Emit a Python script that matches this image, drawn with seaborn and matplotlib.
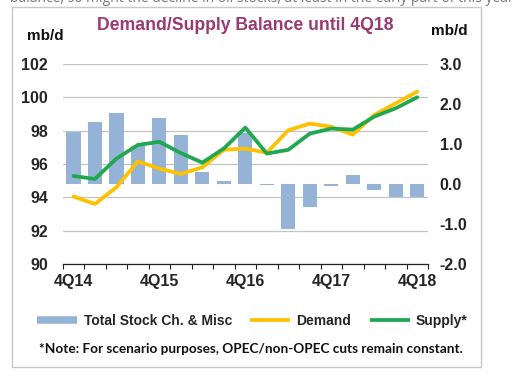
import numpy as np
import pandas as pd
import matplotlib
matplotlib.use("Agg")
import matplotlib.pyplot as plt
from matplotlib.lines import Line2D
from matplotlib.patches import Rectangle
from matplotlib.ticker import FixedLocator, NullFormatter, FixedFormatter
import seaborn as sns

# ---------------- data ----------------
quarters = ["4Q14", "1Q15", "2Q15", "3Q15", "4Q15", "1Q16", "2Q16", "3Q16", "4Q16",
            "1Q17", "2Q17", "3Q17", "4Q17", "1Q18", "2Q18", "3Q18", "4Q18"]
stock_change = [1.29, 1.55, 1.77, 0.95, 1.64, 1.22, 0.31, 0.07, 1.27,
                -0.02, -1.12, -0.57, -0.05, 0.23, -0.14, -0.33, -0.33]
demand = [94.05, 93.60, 94.60, 96.15, 95.72, 95.40, 95.80, 96.85, 96.92,
          96.67, 98.02, 98.42, 98.23, 97.76, 98.94, 99.64, 100.34]
supply = [95.28, 95.10, 96.32, 97.14, 97.33, 96.65, 96.08, 96.93, 98.18,
          96.62, 96.85, 97.82, 98.12, 98.06, 98.84, 99.34, 100.00]
left_ticks = [90, 92, 94, 96, 98, 100, 102]
right_ticks = [-2.0, -1.0, 0.0, 1.0, 2.0, 3.0]
shown_labels = ["4Q14", "4Q15", "4Q16", "4Q17", "4Q18"]

df = pd.DataFrame({"quarter": quarters, "pos": np.arange(len(quarters)),
                   "stock": stock_change, "demand": demand, "supply": supply})

# ---------------- style ----------------
sns.set_theme(style="white")
plt.rcParams["font.family"] = ["Liberation Sans", "DejaVu Sans"]

BAR_C = "#95B3D7"
DEM_C = "#FFC000"
SUP_C = "#1FA84F"
TITLE_C = "#9B3A72"
GRID_C = "#C4C4C4"

fig = plt.figure(figsize=(5.28, 3.80), dpi=100)
fig.patch.set_facecolor("white")

W, H = 528.0, 380.0
x0, x1, ytop, ybot = 62.7, 428.0, 63.9, 264.0
rect = [x0 / W, 1 - ybot / H, (x1 - x0) / W, (ybot - ytop) / H]

ax = fig.add_axes(rect)          # grid + left axis
ax_bar = ax.twinx()              # bars, right axis
ax_line = ax.twinx()             # lines on left scale

# bars
sns.barplot(data=df, x="quarter", y="stock", ax=ax_bar, color=BAR_C,
            saturation=1, width=0.66, edgecolor="none", zorder=2)
# lines
sns.lineplot(data=df, x="pos", y="demand", ax=ax_line, color=DEM_C,
             linewidth=2.7, zorder=3)
sns.lineplot(data=df, x="pos", y="supply", ax=ax_line, color=SUP_C,
             linewidth=2.7, zorder=4)

# y scales
ax.set_ylim(90, 102)
ax_line.set_ylim(90, 102)
ax_bar.set_ylim(-2, 3)

n = len(quarters)
for a in (ax, ax_bar, ax_line):
    a.set_xlim(-0.5, n - 0.5)
    a.set_xlabel("")
    a.set_ylabel("")
    for s in a.spines.values():
        s.set_visible(False)
    a.patch.set_visible(False)
ax.patch.set_visible(True)
ax.patch.set_facecolor("white")

TICK_FS = 11.5

# left axis
ax.set_yticks(left_ticks)
ax.set_yticklabels([str(v) for v in left_ticks])
ax.tick_params(axis="y", length=0, pad=10.5, labelsize=TICK_FS)
for lbl in ax.get_yticklabels():
    lbl.set_fontweight("bold")
ax.yaxis.grid(True, color=GRID_C, linewidth=0.9)
ax.xaxis.grid(False)
ax.set_axisbelow(True)

# right axis
ax_bar.set_yticks(right_ticks)
ax_bar.set_yticklabels([f"{v:.1f}" for v in right_ticks])
ax_bar.tick_params(axis="y", length=0, pad=8.5, labelsize=TICK_FS)
for lbl in ax_bar.get_yticklabels():
    lbl.set_fontweight("bold")
ax_bar.grid(False)

ax_line.yaxis.set_visible(False)
ax_line.grid(False)

# x axis: boundary ticks + labels every 4 quarters
ax.spines["bottom"].set_visible(True)
ax.spines["bottom"].set_color("#222222")
ax.spines["bottom"].set_linewidth(0.9)
label_pos = [quarters.index(q) for q in shown_labels]
ax.xaxis.set_major_locator(FixedLocator(np.arange(-0.5, n, 1.0)))
ax.xaxis.set_major_formatter(NullFormatter())
ax.xaxis.set_minor_locator(FixedLocator(label_pos))
ax.xaxis.set_minor_formatter(FixedFormatter(shown_labels))
ax.tick_params(axis="x", which="major", direction="out", length=3.5,
               width=0.8, color="#222222", bottom=True)
ax.tick_params(axis="x", which="minor", length=0, pad=7, labelsize=TICK_FS, bottom=True)
for lbl in ax.xaxis.get_minorticklabels():
    lbl.set_fontweight("bold")

# texts
fig.text(245 / W, 1 - 25 / H, "Demand/Supply Balance until 4Q18", ha="center",
         va="center", fontsize=12.7, fontweight="bold", color=TITLE_C)
fig.text(45 / W, 1 - 36 / H, "mb/d", ha="center", va="center", fontsize=11,
         fontweight="bold", color="#111111")
fig.text(449 / W, 1 - 31 / H, "mb/d", ha="center", va="center", fontsize=11,
         fontweight="bold", color="#111111")

handles = [Line2D([], [], color=BAR_C, linewidth=5.5, solid_capstyle="butt"),
           Line2D([], [], color=DEM_C, linewidth=2.7, solid_capstyle="butt"),
           Line2D([], [], color=SUP_C, linewidth=2.7, solid_capstyle="butt")]
labels = ["Total Stock Ch. & Misc", "Demand", "Supply*"]
leg = fig.legend(handles, labels, loc="center", bbox_to_anchor=(252.5 / W, 1 - 321 / H),
                 ncol=3, frameon=False, handlelength=2.9, handletextpad=0.45,
                 columnspacing=1.3, prop={"family": "Liberation Sans", "weight": "bold", "size": 10})

fig.text(251 / W, 1 - 349 / H,
         "*Note: For scenario purposes, OPEC/non-OPEC cuts remain constant.",
         ha="center", va="center", fontsize=9.8, fontweight="bold",
         family=["Lato", "DejaVu Sans"], color="#111111")

# clipped text of the page above the chart
fig.text(10 / W, 1 - 2 / H,
         "balance, so might the decline in oil stocks, at least in the early part of this year",
         ha="left", va="baseline", fontsize=10, color="#777777",
         family=["Open Sans", "DejaVu Sans"])

# frame around chart
fig.patches.append(Rectangle((12 / W, 1 - 367 / H), (481 - 12) / W, (367 - 7) / H,
                             transform=fig.transFigure, fill=False,
                             edgecolor="#C8C8C8", linewidth=1.0))

fig.savefig("out.png", dpi=100, facecolor="white")
